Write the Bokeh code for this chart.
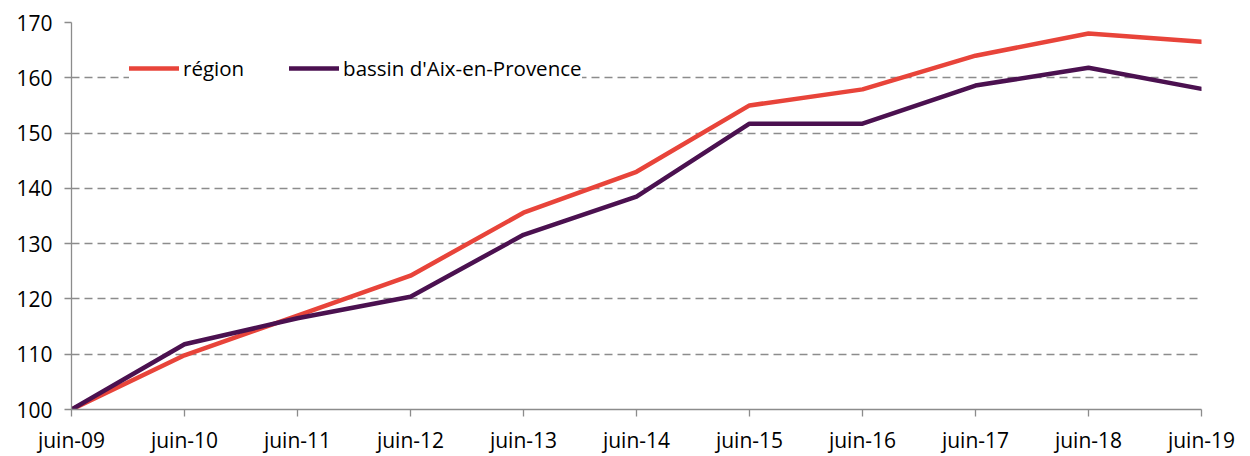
from bokeh.plotting import figure
from bokeh.models import Range1d, FixedTicker, Legend, LegendItem
from bokeh.embed import file_html
from bokeh.resources import INLINE

years = ["juin-09", "juin-10", "juin-11", "juin-12", "juin-13", "juin-14",
         "juin-15", "juin-16", "juin-17", "juin-18", "juin-19"]
region = [100, 109.8, 117.0, 124.2, 135.6, 143.0, 155.0, 157.9, 164.0, 168.0, 166.5]
bassin = [100, 111.8, 116.5, 120.4, 131.6, 138.5, 151.7, 151.7, 158.6, 161.8, 158.0]
y_ticks = [100, 110, 120, 130, 140, 150, 160, 170]

xs = list(range(len(years)))
FONT = "Open Sans"
GRID = "#8c8c8c"

p = figure(width=1250, height=456, output_backend="svg", toolbar_location=None,
           x_range=Range1d(0, len(years) - 1), y_range=Range1d(100, 170),
           min_border_left=71, min_border_right=49, min_border_top=22, min_border_bottom=47)
p.outline_line_color = None
p.background_fill_color = "white"
p.border_fill_color = "white"

p.xgrid.grid_line_color = None
p.ygrid.ticker = FixedTicker(ticks=y_ticks[1:])
p.ygrid.grid_line_color = GRID
p.ygrid.grid_line_dash = "8 5"
p.ygrid.grid_line_width = 1.3

p.xaxis.ticker = FixedTicker(ticks=xs)
p.xaxis.major_label_overrides = {i: s for i, s in enumerate(years)}
p.yaxis.ticker = FixedTicker(ticks=y_ticks)
for ax in (p.xaxis, p.yaxis):
    ax.axis_line_color = GRID
    ax.axis_line_width = 1.3
    ax.major_tick_line_color = GRID
    ax.major_tick_line_width = 1.3
    ax.major_tick_in = 0
    ax.major_tick_out = 7
    ax.minor_tick_line_color = None
    ax.major_label_text_font = FONT
    ax.major_label_text_font_size = "21px"
    ax.major_label_text_color = "black"
p.xaxis.major_label_standoff = 9
p.yaxis.major_label_standoff = 12

r1 = p.line(xs, region, line_color="#E8443A", line_width=4.5, line_join="round", line_cap="round")
r2 = p.line(xs, bassin, line_color="#4B1150", line_width=4.5, line_join="round", line_cap="round")

legend = Legend(items=[LegendItem(label="région", renderers=[r1]),
                       LegendItem(label="bassin d'Aix-en-Provence", renderers=[r2])],
                orientation="horizontal", location=(58, 327),
                glyph_width=50, glyph_height=20, label_standoff=4, spacing=45,
                padding=10, label_text_font=FONT, label_text_font_size="20.5px",
                label_text_color="black", background_fill_color="white",
                background_fill_alpha=1.0, border_line_color=None)
p.add_layout(legend)

open("out.html", "w").write(file_html(p, INLINE))
